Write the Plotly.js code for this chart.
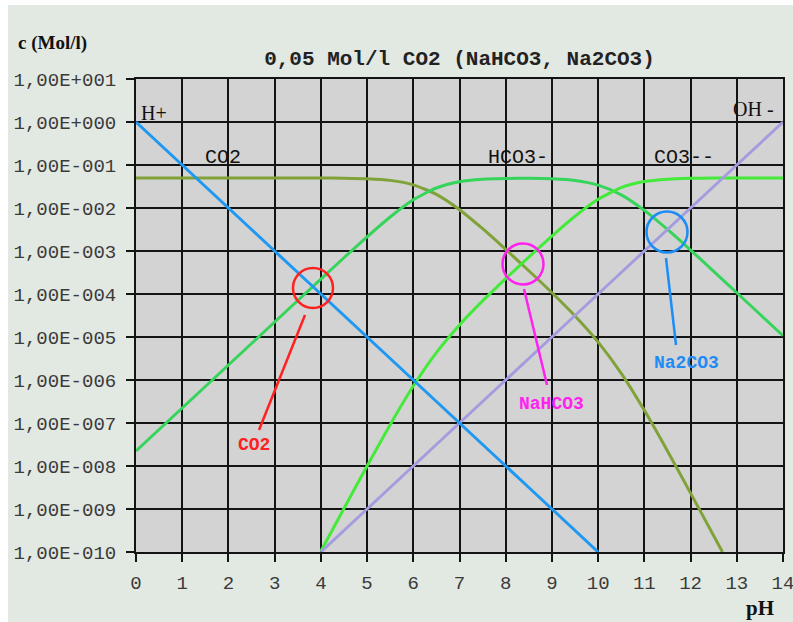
<!DOCTYPE html>
<html>
<head>
<meta charset="utf-8">
<script src="https://cdn.plot.ly/plotly-3.0.1.min.js"></script>
<style>html,body{margin:0;padding:0;background:#ffffff;}#chart{width:793px;height:622px;}</style>
</head>
<body>
<div id="chart"></div>
<script>
// ---- data ----
const pH_H = [0, 1, 2, 3, 4, 5, 6, 7, 8, 9, 10];
const c_H = [1, 1e-1, 1e-2, 1e-3, 1e-4, 1e-5, 1e-6, 1e-7, 1e-8, 1e-9, 1e-10];

const pH_OH = [4, 5, 6, 7, 8, 9, 10, 11, 12, 13, 14];
const c_OH = [1e-10, 1e-9, 1e-8, 1e-7, 1e-6, 1e-5, 1e-4, 1e-3, 1e-2, 1e-1, 1];

const pH_CO2 = [0, 1, 2, 3, 4, 4.5, 5, 5.5, 6, 6.5, 7, 7.5, 8, 8.5, 9, 9.5, 10, 10.5, 11, 11.5, 12, 12.5, 12.69];
const c_CO2 = [5.0e-2, 5.0e-2, 5.0e-2, 4.99e-2, 4.98e-2, 4.93e-2, 4.79e-2, 4.39e-2, 3.46e-2, 2.07e-2, 9.14e-3, 3.30e-3, 1.09e-3, 3.47e-4, 1.07e-4, 3.08e-5, 7.62e-6, 1.43e-6, 1.97e-7, 2.24e-8, 2.34e-9, 2.38e-10, 1.0e-10];

const pH_HCO3 = [0, 1, 2, 3, 4, 4.5, 5, 5.5, 6, 6.5, 7, 7.5, 8, 8.5, 9, 9.5, 10, 10.5, 11, 11.5, 12, 12.5, 13, 13.5, 14];
const c_HCO3 = [2.23e-8, 2.23e-7, 2.23e-6, 2.23e-5, 2.22e-4, 6.97e-4, 2.14e-3, 6.19e-3, 1.55e-2, 2.92e-2, 4.08e-2, 4.67e-2, 4.86e-2, 4.90e-2, 4.76e-2, 4.36e-2, 3.40e-2, 2.02e-2, 8.81e-3, 3.17e-3, 1.05e-3, 3.36e-4, 1.07e-4, 3.38e-5, 1.07e-5];

const pH_CO3 = [4, 4.5, 5, 5.5, 6, 6.5, 7, 7.5, 8, 8.5, 9, 9.5, 10, 10.5, 11, 11.5, 12, 12.5, 13, 13.5, 14];
const c_CO3 = [1.04e-10, 1.03e-9, 1.0e-8, 9.16e-8, 7.23e-7, 4.33e-6, 1.91e-5, 6.90e-5, 2.28e-4, 7.24e-4, 2.23e-3, 6.44e-3, 1.59e-2, 2.99e-2, 4.12e-2, 4.69e-2, 4.90e-2, 4.97e-2, 4.99e-2, 5.0e-2, 5.0e-2];

const yTickVals = [1e1, 1e0, 1e-1, 1e-2, 1e-3, 1e-4, 1e-5, 1e-6, 1e-7, 1e-8, 1e-9, 1e-10];
const yTickText = ["1,00E+001", "1,00E+000", "1,00E-001", "1,00E-002", "1,00E-003", "1,00E-004", "1,00E-005", "1,00E-006", "1,00E-007", "1,00E-008", "1,00E-009", "1,00E-010"];
const xTickVals = [0, 1, 2, 3, 4, 5, 6, 7, 8, 9, 10, 11, 12, 13, 14];

const speciesLabels = ["H+", "CO2", "HCO3-", "CO3--", "OH -"];
const saltLabels = ["CO2", "NaHCO3", "Na2CO3"];
const chartTitle = "0,05 Mol/l CO2 (NaHCO3, Na2CO3)";
const yTitle = "c (Mol/l)";
const xTitle = "pH";

// ---- layout geometry (pixels) ----
const W = 793, H = 622;
const L = 136, R = 10, T = 79, B = 70;
const pw = W - L - R, ph = H - T - B;
const px = X => (X - L) / pw;
const py = Y => (H - B - Y) / ph;

const mono = "Liberation Mono, Courier New, monospace";
const serif = "Liberation Serif, Times New Roman, serif";

function line(x, y, color, w) {
  return {x: x, y: y, type: 'scatter', mode: 'lines', hoverinfo: 'skip',
          line: {color: color, width: w, shape: 'spline', smoothing: 0.6}};
}

const traces = [
  line(pH_CO2, c_CO2, '#80a238', 3),
  line(pH_HCO3, c_HCO3, '#35d45a', 3),
  line(pH_CO3, c_CO3, '#44ea3a', 3),
  line(pH_OH, c_OH, '#a39ddf', 3),
  line(pH_H, c_H, '#1e98f2', 3)
];

function lbl(text, X, Y, font, color, size, bold, anchor) {
  return {text: bold ? '<b>' + text + '</b>' : text, xref: 'paper', yref: 'paper',
          x: px(X), y: py(Y), xanchor: anchor || 'left', yanchor: 'middle', showarrow: false,
          font: {family: font, size: size, color: color}};
}

const annotations = [
  lbl(speciesLabels[0], 139, 113, serif, '#111', 20, false),
  lbl(speciesLabels[1], 203, 157, mono, '#111', 20, false),
  lbl(speciesLabels[2], 486, 157, mono, '#111', 20, false),
  lbl(speciesLabels[3], 652, 157, mono, '#111', 20, false),
  lbl(speciesLabels[4], 776, 109, serif, '#111', 20, false, 'right'),
  lbl(saltLabels[0], 254, 445, mono, '#ff2020', 18, true, 'center'),
  lbl(saltLabels[1], 551, 404, mono, '#ff22ee', 18, true, 'center'),
  lbl(saltLabels[2], 686, 363, mono, '#1e8cf5', 18, true, 'center'),
  lbl(yTitle, 16, 43, serif, '#111', 19, true),
  lbl(xTitle, 760, 608, serif, '#111', 21, true, 'center')
];

function circ(cx, cy, r, color) {
  return {type: 'circle', xref: 'paper', yref: 'paper', x0: px(cx - r), x1: px(cx + r),
          y0: py(cy + r), y1: py(cy - r), line: {color: color, width: 2.5}, layer: 'above'};
}
function seg(x0, y0, x1, y1, color) {
  return {type: 'line', xref: 'paper', yref: 'paper', x0: px(x0), y0: py(y0), x1: px(x1), y1: py(y1),
          line: {color: color, width: 2.5}, layer: 'above'};
}
function rect(x0, y0, x1, y1, color) {
  return {type: 'rect', xref: 'paper', yref: 'paper', x0: px(x0), y0: py(y0), x1: px(x1), y1: py(y1),
          line: {width: 0}, fillcolor: color, layer: 'below'};
}

const shapes = [
  rect(0, 0, W, 5, '#ffffff'),
  rect(0, 0, 8, H, '#ffffff'),
  circ(313, 288, 20, '#ff2020'),
  seg(305, 315, 259, 430, '#ff2020'),
  circ(523, 264, 20.5, '#ff22ee'),
  seg(524, 289, 547, 385, '#ff22ee'),
  circ(667, 232, 20.5, '#1e8cf5'),
  seg(666, 258, 676, 345, '#1e8cf5')
];

const axisCommon = {
  showgrid: true, gridcolor: '#141414', gridwidth: 2,
  showline: true, linecolor: '#141414', linewidth: 2, mirror: true,
  ticks: 'outside', ticklen: 8, tickwidth: 2, tickcolor: '#141414',
  zeroline: false, fixedrange: true, ticklabeloverflow: 'allow',
  tickfont: {family: mono, size: 19, color: '#3a3a3a'}
};

const layout = {
  width: W, height: H,
  margin: {l: L, r: R, t: T, b: B, pad: 0},
  paper_bgcolor: '#e2e8e2', plot_bgcolor: '#d3d3d3',
  showlegend: false,
  title: {text: '<b>' + chartTitle + '</b>', xref: 'paper', x: 0.5, xanchor: 'center',
          yref: 'container', y: 1 - 58 / H, yanchor: 'middle',
          font: {family: mono, size: 21, color: '#222'}},
  xaxis: Object.assign({}, axisCommon, {range: [0, 14], tickmode: 'array', tickvals: xTickVals,
          ticktext: xTickVals.map(String), ticklabelstandoff: 4}),
  yaxis: Object.assign({}, axisCommon, {type: 'log', range: [-10, 1], tickmode: 'array',
          tickvals: yTickVals, ticktext: yTickText, ticklabelstandoff: 6}),
  annotations: annotations,
  shapes: shapes
};

Plotly.newPlot('chart', traces, layout, {displayModeBar: false, staticPlot: true});
</script>
</body>
</html>
